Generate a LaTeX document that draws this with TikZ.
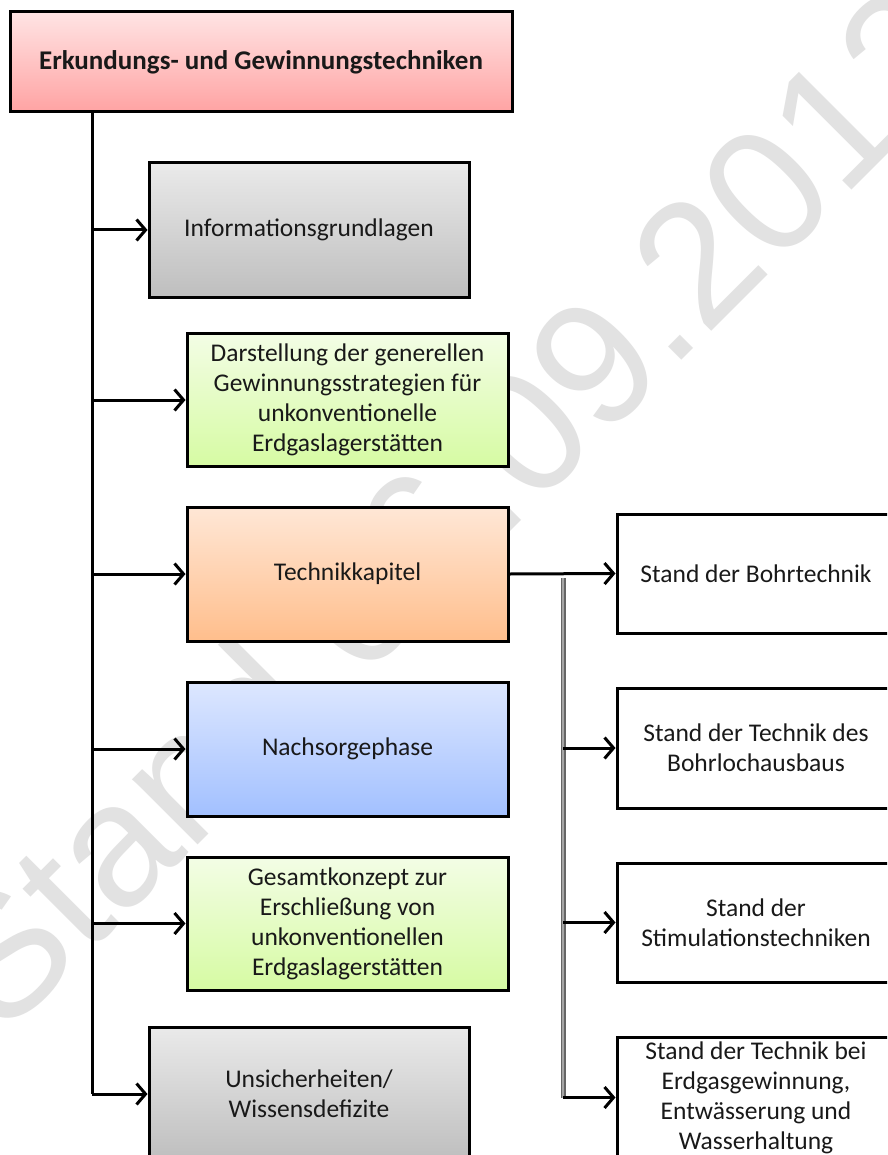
\documentclass[tikz,border=0pt]{standalone}
\usepackage{fontspec}
\setmainfont{Carlito}
\newfontfamily\wmfont{Liberation Sans}
\usetikzlibrary{arrows.meta}
\definecolor{pinkT}{RGB}{255,228,228}
\definecolor{pinkB}{RGB}{255,163,163}
\definecolor{grayT}{RGB}{234,234,234}
\definecolor{grayB}{RGB}{190,190,190}
\definecolor{greenT}{RGB}{243,253,229}
\definecolor{greenB}{RGB}{214,251,163}
\definecolor{orangeT}{RGB}{255,231,214}
\definecolor{orangeB}{RGB}{255,190,140}
\definecolor{blueT}{RGB}{221,231,255}
\definecolor{blueB}{RGB}{162,192,255}
\definecolor{wmgray}{RGB}{226,226,226}
\tikzset{
  box/.style={draw=black, line width=3pt, rectangle, align=center, inner sep=2pt,
    font=\fontsize{25.5}{30}\selectfont, text=black!90},
  arr/.style={line width=3pt, -{Straight Barb[length=9pt,width=21pt]}},
  trunk/.style={line width=3pt},
  graybar/.style={line width=5pt, draw=black!60},
  graycore/.style={line width=2pt, draw=black!35},
}
\begin{document}
\begin{tikzpicture}[x=1pt,y=-1pt]
\useasboundingbox (0,0) rectangle (887,1155);
\clip (0,0) rectangle (887,1155);
\fill[white] (0,0) rectangle (887,1155);
% watermark
\node[text=wmgray, rotate=45, font=\wmfont\fontsize{175}{175}\selectfont, anchor=center] (wm) at (448,506) {Stand 06.09.2012};
% main boxes
\node[box, minimum width=502pt, minimum height=100pt, top color=pinkT, bottom color=pinkB, font=\fontsize{27}{30}\selectfont\bfseries] (top) at (261,62) {Erkundungs- und Gewinnungstechniken};
\node[box, minimum width=320pt, minimum height=134pt, top color=grayT, bottom color=grayB] (info) at (309,230) {Informationsgrundlagen};
\node[box, minimum width=321pt, minimum height=133pt, top color=greenT, bottom color=greenB] (dar) at (347.5,400) {Darstellung der generellen\\Gewinnungsstrategien für\\unkonventionelle\\Erdgaslagerstätten};
\node[box, minimum width=321pt, minimum height=134pt, top color=orangeT, bottom color=orangeB] (tech) at (347.5,574) {Technikkapitel};
\node[box, minimum width=321pt, minimum height=134pt, top color=blueT, bottom color=blueB] (nach) at (347.5,749) {Nachsorgephase};
\node[box, minimum width=321pt, minimum height=133pt, top color=greenT, bottom color=greenB] (ges) at (347.5,923.5) {Gesamtkonzept zur\\Erschließung von\\unkonventionellen\\Erdgaslagerstätten};
\node[box, minimum width=320pt, minimum height=134pt, top color=grayT, bottom color=grayB] (uns) at (309,1094) {Unsicherheiten/\\Wissensdefizite};
% right boxes
\node[box, fill=white, minimum width=278pt, minimum height=119pt] (r1) at (756,573.5) {Stand der Bohrtechnik};
\node[box, fill=white, minimum width=278pt, minimum height=120pt] (r2) at (756,748) {Stand der Technik des\\Bohrlochausbaus};
\node[box, fill=white, minimum width=278pt, minimum height=119pt] (r3) at (756,922.5) {Stand der\\Stimulationstechniken};
\node[box, fill=white, minimum width=278pt, minimum height=120pt] (r4) at (756,1097.5) {Stand der Technik bei\\Erdgasgewinnung,\\Entwässerung und\\Wasserhaltung};
% trunk
\coordinate (t0) at (92,0);
\coordinate (tend) at (92,1094);
\draw[trunk] (top.south -| t0) -- (tend);
\draw[arr] (t0 |- info.west) -- (info.west);
\draw[arr] (t0 |- dar.west) -- (dar.west);
\draw[arr] (t0 |- tech.west) -- (tech.west);
\draw[arr] (t0 |- nach.west) -- (nach.west);
\draw[arr] (t0 |- ges.west) -- (ges.west);
\draw[arr] (tend) -- (uns.west |- tend);
% right branch
\coordinate (b0) at (563,578);
\coordinate (b1) at (563,1097.5);
\draw[graybar] (b0) -- (b1);
\draw[graycore] (b0) -- (b1);
\draw[arr] (tech.east) -- (r1.west);
\draw[arr] (b0 |- r2.west) -- (r2.west);
\draw[arr] (b0 |- r3.west) -- (r3.west);
\draw[arr] (b1) -- (r4.west);
\end{tikzpicture}
\end{document}
